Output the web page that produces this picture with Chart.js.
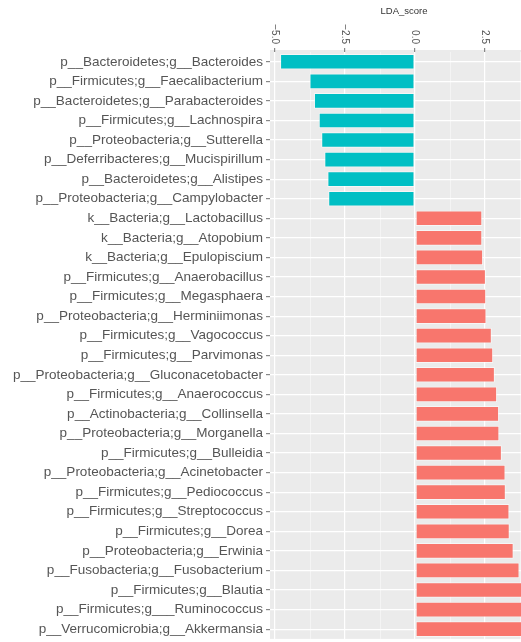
<!DOCTYPE html>
<html>
<head>
<meta charset="utf-8">
<script src="https://cdn.jsdelivr.net/npm/chart.js@4/dist/chart.umd.min.js"></script>
<style>
  html, body { margin: 0; padding: 0; background: #fff; overflow: hidden; width: 521px; height: 642px; }
  canvas { display: block; }
</style>
</head>
<body>
<canvas id="lda" width="540" height="650"></canvas>
<script>
// Taxa ordered top to bottom, with their LDA scores
const taxa = [
  'p__Bacteroidetes;g__Bacteroides',
  'p__Firmicutes;g__Faecalibacterium',
  'p__Bacteroidetes;g__Parabacteroides',
  'p__Firmicutes;g__Lachnospira',
  'p__Proteobacteria;g__Sutterella',
  'p__Deferribacteres;g__Mucispirillum',
  'p__Bacteroidetes;g__Alistipes',
  'p__Proteobacteria;g__Campylobacter',
  'k__Bacteria;g__Lactobacillus',
  'k__Bacteria;g__Atopobium',
  'k__Bacteria;g__Epulopiscium',
  'p__Firmicutes;g__Anaerobacillus',
  'p__Firmicutes;g__Megasphaera',
  'p__Proteobacteria;g__Herminiimonas',
  'p__Firmicutes;g__Vagococcus',
  'p__Firmicutes;g__Parvimonas',
  'p__Proteobacteria;g__Gluconacetobacter',
  'p__Firmicutes;g__Anaerococcus',
  'p__Actinobacteria;g__Collinsella',
  'p__Proteobacteria;g__Morganella',
  'p__Firmicutes;g__Bulleidia',
  'p__Proteobacteria;g__Acinetobacter',
  'p__Firmicutes;g__Pediococcus',
  'p__Firmicutes;g__Streptococcus',
  'p__Firmicutes;g__Dorea',
  'p__Proteobacteria;g__Erwinia',
  'p__Fusobacteria;g__Fusobacterium',
  'p__Firmicutes;g__Blautia',
  'p__Firmicutes;g___Ruminococcus',
  'p__Verrucomicrobia;g__Akkermansia'
];

const ldaScores = [
  -4.82, -3.77, -3.61, -3.44, -3.35, -3.24, -3.13, -3.10,
   2.40,  2.40,  2.43,  2.53,  2.54,  2.55,  2.74,  2.79,
   2.85,  2.93,  3.00,  3.01,  3.10,  3.23,  3.24,  3.37,
   3.38,  3.52,  3.73,  3.86,  3.92,  4.00
];

const xMajorTicks = [-5, -2.5, 0, 2.5];
const xMinorTicks = [-3.75, -1.25, 1.25, 3.75];
const xTickLabels = ['\u22125.0', '\u22122.5', '0.0', '2.5'];

const negColor = '#00BFC4';
const posColor = '#F8766D';
const panelColor = '#EBEBEB';
const textColor = '#555555';

// grey ggplot-style panel behind the bars
const panelBackground = {
  id: 'panelBackground',
  beforeDraw(chart) {
    const { ctx, chartArea: a } = chart;
    ctx.save();
    ctx.fillStyle = '#fff';
    ctx.fillRect(0, 0, chart.width, chart.height);
    ctx.fillStyle = panelColor;
    ctx.fillRect(a.left, a.top - 2, a.right - a.left, a.bottom - a.top + 2);
    ctx.restore();
  }
};

// x tick labels turned a quarter-turn clockwise, reading downward and ending at the tick
const rotatedXLabels = {
  id: 'rotatedXLabels',
  afterDraw(chart) {
    const { ctx, chartArea } = chart;
    const xs = chart.scales.x;
    ctx.save();
    ctx.fillStyle = textColor;
    ctx.font = '10px "Liberation Sans", Arial, sans-serif';
    ctx.textAlign = 'right';
    ctx.textBaseline = 'middle';
    xMajorTicks.forEach((v, i) => {
      const px = xs.getPixelForValue(v);
      ctx.save();
      ctx.translate(px, chartArea.top - 8);
      ctx.rotate(Math.PI / 2);
      ctx.fillText(xTickLabels[i], 0, 0);
      ctx.restore();
    });
    ctx.restore();
  }
};

new Chart(document.getElementById('lda'), {
  type: 'bar',
  data: {
    labels: taxa,
    datasets: [{
      label: 'LDA_score',
      data: ldaScores,
      backgroundColor: ctx => (ctx.raw < 0 ? negColor : posColor),
      borderColor: 'rgba(255,255,255,0.55)',
      borderWidth: 1,
      borderSkipped: false,
      barPercentage: 0.8,
      categoryPercentage: 1.0
    }]
  },
  plugins: [panelBackground, rotatedXLabels],
  options: {
    indexAxis: 'y',
    responsive: false,
    animation: false,
    devicePixelRatio: 1,
    layout: { padding: { top: 0, right: 2, bottom: 6, left: 0 } },
    plugins: {
      legend: { display: false },
      tooltip: { enabled: false }
    },
    scales: {
      x: {
        type: 'linear',
        position: 'top',
        min: -5.18,
        max: 4.39,
        afterBuildTicks(scale) {
          scale.ticks = xMajorTicks.concat(xMinorTicks)
            .sort((a, b) => a - b)
            .map(v => ({ value: v }));
        },
        afterFit(scale) { scale.height = 52; },
        ticks: { display: false },
        border: { display: false },
        grid: {
          color: ctx => (ctx.tick && xMinorTicks.includes(ctx.tick.value) ? 'rgba(255,255,255,0.75)' : '#FFFFFF'),
          lineWidth: ctx => (ctx.tick && xMinorTicks.includes(ctx.tick.value) ? 0.6 : 1.2),
          tickColor: ctx => (ctx.tick && xMinorTicks.includes(ctx.tick.value) ? 'rgba(0,0,0,0)' : '#888'),
          tickLength: 4,
          drawTicks: true
        },
        title: {
          display: true,
          text: 'LDA_score',
          color: '#333',
          font: { family: '"Liberation Sans", Arial, sans-serif', size: 9.5 },
          padding: { top: 6, bottom: 0 }
        }
      },
      y: {
        type: 'category',
        offset: true,
        afterFit(scale) { scale.width = 270; },
        border: { display: false },
        grid: {
          offset: false,
          color: '#FFFFFF',
          lineWidth: 1.2,
          tickColor: '#888',
          tickLength: 4,
          drawTicks: true
        },
        ticks: {
          color: textColor,
          padding: 3,
          autoSkip: false,
          font: { family: '"Liberation Sans", Arial, sans-serif', size: 13.5 }
        }
      }
    }
  }
});
</script>
</body>
</html>
